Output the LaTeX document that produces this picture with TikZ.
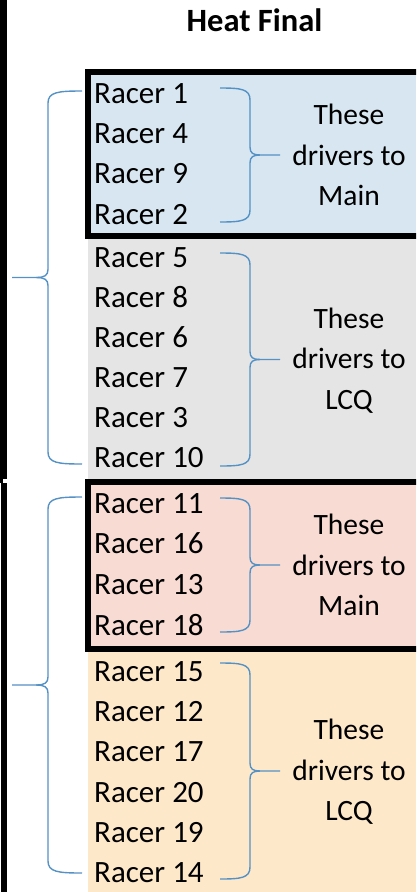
\documentclass[tikz,border=0pt]{standalone}
\usepackage{fontspec}
\setmainfont{Carlito}
\definecolor{blueF}{HTML}{D7E6F0}
\definecolor{grayF}{HTML}{E5E5E5}
\definecolor{pinkF}{HTML}{F8DBD2}
\definecolor{creamF}{HTML}{FEE8CA}
\definecolor{brcC}{RGB}{84,145,196}
\tikzset{
  brc/.style={draw=brcC, line width=1.4pt},
  racer/.style={anchor=base west, inner sep=0pt, font=\fontsize{31}{40.5}\selectfont},
  expl/.style={anchor=center, inner sep=0pt, align=center, font=\fontsize{29.5}{40.5}\selectfont},
  frame/.style={line width=6pt, draw=black},
}
\newcommand{\bracepath}[5]{% x0, xs, xt, ya, yb
  \pgfmathsetmacro{\bxd}{#2-#1}%
  \pgfmathsetmacro{\bxe}{#3-#2}%
  \pgfmathsetmacro{\bym}{(#4+#5)/2}%
  \draw[brc] (#1,#4) .. controls (#1+0.7*\bxd,#4) and (#2,#4+1) .. (#2,#4+12)
     -- (#2,\bym-8) .. controls (#2,\bym-2) and (#2+0.1*\bxe,\bym) .. (#2+0.33*\bxe,\bym) -- (#3,\bym);
  \draw[brc] (#2+0.33*\bxe,\bym) .. controls (#2+0.1*\bxe,\bym) and (#2,\bym+2) .. (#2,\bym+8)
     -- (#2,#5-12) .. controls (#2,#5-1) and (#1+0.7*\bxd,#5) .. (#1,#5);
}
\begin{document}
\begin{tikzpicture}[x=1pt,y=-1pt]
\useasboundingbox (0,0) rectangle (416,892);
\clip (0,0) rectangle (416,892);
% fills
\fill[blueF] (88,72) rectangle (416,236);
\fill[grayF] (88,236) rectangle (416,482);
\fill[pinkF] (88,482) rectangle (416,648.5);
\fill[creamF] (88,648.5) rectangle (416,892);
% frames
\draw[frame] (430,72) -- (88,72) -- (88,236) -- (430,236);
\draw[frame] (430,482) -- (88,482) -- (88,648.5) -- (430,648.5);
% left border line
\fill[black] (0,0) rectangle (7,479);
\fill[black] (0,479) rectangle (3,483);
\fill[black] (1,483) rectangle (7,892);
% title
\node[anchor=base, inner sep=0pt, font=\fontsize{32.5}{36}\selectfont\bfseries] (title) at (254.5,31) {Heat Final};
% racers
\foreach \n/\y in {1/103,4/143.3,9/183.7,2/224,
                   5/267,8/307,6/347,7/387,3/427,10/467,
                   11/513,16/553.7,13/594.3,18/635,
                   15/681,12/721,17/761,20/802,19/842,14/882}
  \node[racer] (r\n) at (94,\y) {Racer \n};
% explanations
\node[expl] (e1) at (349,155) {These\\drivers to\\Main};
\node[expl] (e2) at (349,360.5) {These\\drivers to\\LCQ};
\node[expl] (e3) at (349,565) {These\\drivers to\\Main};
\node[expl] (e4) at (349,772) {These\\drivers to\\LCQ};
% braces
\bracepath{220}{250}{280}{88}{222}
\bracepath{220}{250}{280}{253}{466}
\bracepath{220}{250}{280}{498}{632}
\bracepath{220}{250}{280}{663}{879}
\bracepath{82}{48}{12}{91}{464}
\bracepath{82}{48}{12}{497}{873}
\end{tikzpicture}
\end{document}
